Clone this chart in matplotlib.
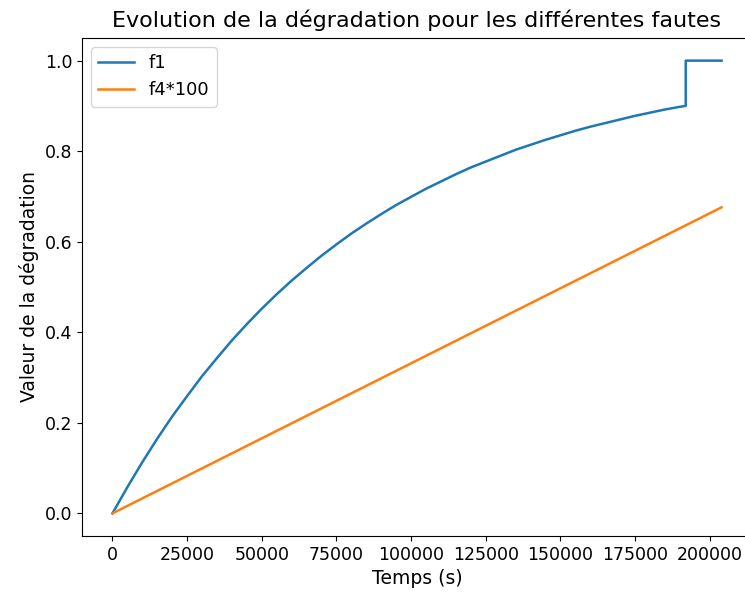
import matplotlib
matplotlib.use("Agg")
import matplotlib.pyplot as plt

# f1 degradation curve
t_f1 = [0, 5000, 10000, 15000, 20000, 25000, 30000, 35000, 40000, 45000,
        50000, 55000, 60000, 65000, 70000, 75000, 80000, 85000, 90000, 95000,
        100000, 105000, 110000, 115000, 120000, 125000, 130000, 135000,
        140000, 145000, 150000, 155000, 160000, 165000, 170000, 175000,
        180000, 185000, 190000, 192000, 192000, 204000]
f1 = [0.0, 0.058, 0.113, 0.165, 0.214, 0.259, 0.303, 0.343, 0.382, 0.418,
      0.452, 0.484, 0.514, 0.542, 0.569, 0.594, 0.618, 0.640, 0.661, 0.681,
      0.699, 0.717, 0.733, 0.749, 0.764, 0.777, 0.790, 0.803,
      0.814, 0.825, 0.835, 0.845, 0.854, 0.862, 0.870, 0.878,
      0.885, 0.892, 0.898, 0.900, 1.0, 1.0]

# f4*100 (linear)
t_f4 = [0, 204000]
f4 = [0.0, 0.676]

fig = plt.figure(figsize=(7.45, 5.95), dpi=100)
ax = fig.add_axes([82/745, (595-536)/595, 670/745, (536-38)/595])
ax.plot(t_f1, f1, color="#1f77b4", lw=1.8, label="f1")
ax.plot(t_f4, f4, color="#ff7f0e", lw=1.8, label="f4*100")
ax.set_title("Evolution de la dégradation pour les différentes fautes", fontsize=16, pad=8)
ax.set_xlabel("Temps (s)", fontsize=13.5)
ax.set_ylabel("Valeur de la dégradation", fontsize=13.5)
ax.set_xticks([0, 25000, 50000, 75000, 100000, 125000, 150000, 175000, 200000])
ax.set_yticks([0.0, 0.2, 0.4, 0.6, 0.8, 1.0])
ax.tick_params(labelsize=12.5)
ax.legend(loc="upper left", fontsize=13)
fig.savefig("out.png", dpi=100)
